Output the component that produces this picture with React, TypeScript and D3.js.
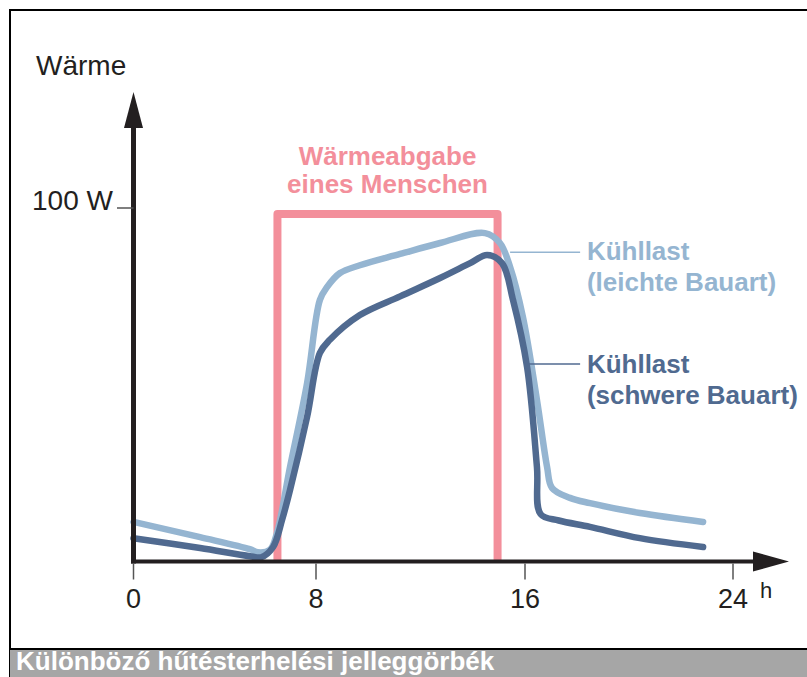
import React from "react";
import * as d3 from "d3";

const hourTicks = [0, 8, 16, 24];
const tickLabels = ["0", "8", "16", "24"];
const yTickValue = 100;
const yTickLabel = "100 W";

// Kühllast leichte Bauart (h, W)
const lightHours = [0, 2.92, 5.1, 5.45, 5.98, 6.29, 6.86, 7.61, 8.15, 8.42, 8.92, 9.68, 11.22, 12.75, 14.47, 15.04, 15.43, 15.92, 16.46, 16.85, 17.04, 17.73, 18.5, 20.42, 22.85];
const lightWatts = [11.2, 6.9, 3.5, 2.6, 3.3, 8.1, 26.7, 50.5, 74.0, 77.6, 81.6, 83.8, 87.0, 90.1, 92.9, 90.1, 83.3, 69.2, 45.7, 26.7, 20.8, 18.0, 16.5, 13.7, 11.2];

// Kühllast schwere Bauart (h, W)
const heavyHours = [0, 2.92, 5.1, 5.6, 6.12, 6.51, 6.86, 7.61, 8.15, 8.53, 9.68, 11.22, 12.75, 13.9, 14.55, 15.12, 15.54, 16.08, 16.46, 16.6, 17.3, 18.5, 20.42, 22.85];
const heavyWatts = [6.6, 3.8, 1.5, 1.2, 4.1, 11.7, 20.2, 40.9, 59.0, 62.7, 69.7, 75.0, 80.2, 84.4, 86.7, 84.4, 74.0, 55.0, 26.7, 13.4, 11.6, 9.8, 6.6, 4.1];

// Wärmeabgabe eines Menschen
const personStart = 6.31;
const personEnd = 14.95;
const personWatts = 98.3;

const W = 807;
const H = 677;

const x = d3.scaleLinear().domain(hourTicks).range([133.5, 316, 525, 733]);
const y = d3.scaleLinear().domain([0, 100]).range([561.5, 208]);

const line = d3
  .line<[number, number]>()
  .x((d) => x(d[0]))
  .y((d) => y(d[1]))
  .curve(d3.curveCatmullRom.alpha(0.5));

const lightPts = lightHours.map((h, i) => [h, lightWatts[i]] as [number, number]);
const heavyPts = heavyHours.map((h, i) => [h, heavyWatts[i]] as [number, number]);

const PINK = "#f38f9b";
const LIGHT = "#95b5d1";
const DARK = "#506a90";
const INK = "#231f20";
const FONT = "'Liberation Sans', Arial, Helvetica, sans-serif";

export default function App() {
  const x0 = x(0);
  const y0 = y(0);
  return (
    <div style={{ position: "absolute", left: 0, top: 0 }}>
      <svg width={W} height={H} style={{ display: "block" }} fontFamily={FONT}>
        <rect x={0} y={0} width={W} height={H} fill="#fff" />
        {/* frame */}
        <rect x={10} y={10} width={W} height={H} fill="none" stroke="#000" strokeWidth={2} />
        <rect x={10} y={649} width={W} height={H - 649} fill="#a6a6a6" />
        <line x1={10} x2={W} y1={649} y2={649} stroke="#000" strokeWidth={2} />
        <text x={16} y={670} fill="#fff" fontWeight="bold" fontSize={26} fontFamily="'Liberation Sans Narrow', 'Arial Narrow', 'Liberation Sans', Arial, sans-serif">
          Különböző hűtésterhelési jelleggörbék
        </text>

        {/* person heat rectangle */}
        <path
          d={`M${x(personStart)},${y0} L${x(personStart)},${y(personWatts)} L${x(personEnd)},${y(personWatts)} L${x(personEnd)},${y0}`}
          fill="none"
          stroke={PINK}
          strokeWidth={8}
          strokeLinejoin="round"
        />
        <text x={(x(personStart) + x(personEnd)) / 2} y={165} textAnchor="middle" fill={PINK} fontWeight="bold" fontSize={26}>
          Wärmeabgabe
        </text>
        <text x={(x(personStart) + x(personEnd)) / 2} y={193} textAnchor="middle" fill={PINK} fontWeight="bold" fontSize={26}>
          eines Menschen
        </text>

        {/* curves */}
        <path d={line(lightPts) || ""} fill="none" stroke={LIGHT} strokeWidth={6.5} strokeLinejoin="round" strokeLinecap="round" />
        <path d={line(heavyPts) || ""} fill="none" stroke={DARK} strokeWidth={6.5} strokeLinejoin="round" strokeLinecap="round" />

        {/* leaders */}
        <line x1={x(15.43)} x2={x(18.12)} y1={y(87.5)} y2={y(87.5)} stroke={LIGHT} strokeWidth={1.5} />
        <line x1={x(16.12)} x2={x(18.12)} y1={y(55.9)} y2={y(55.9)} stroke={DARK} strokeWidth={1.5} />
        <text x={x(18.38)} y={260} fill={LIGHT} fontWeight="bold" fontSize={26}>Kühllast</text>
        <text x={x(18.38)} y={291} fill={LIGHT} fontWeight="bold" fontSize={26}>(leichte Bauart)</text>
        <text x={x(18.38)} y={373} fill={DARK} fontWeight="bold" fontSize={26}>Kühllast</text>
        <text x={x(18.38)} y={404} fill={DARK} fontWeight="bold" fontSize={26}>(schwere Bauart)</text>

        {/* axes */}
        <line x1={x0} x2={x0} y1={y0 + 2} y2={125} stroke={INK} strokeWidth={5} />
        <path d={`M${x0},92 L${x0 + 9.5},128 L${x0 - 9.5},128 Z`} fill={INK} />
        <line x1={x0 - 2.5} x2={757} y1={y0} y2={y0} stroke={INK} strokeWidth={4} />
        <path d={`M789,${y0} L753,${y0 - 10} L753,${y0 + 10} Z`} fill={INK} />

        {hourTicks.map((h, i) => (
          <g key={h}>
            <line x1={x(h)} x2={x(h)} y1={y0 + 2} y2={y0 + 18} stroke="#555" strokeWidth={1.5} />
            <text x={x(h)} y={608} textAnchor="middle" fill={INK} fontSize={27}>
              {tickLabels[i]}
            </text>
          </g>
        ))}
        <text x={760} y={598} fill={INK} fontSize={22}>h</text>

        <line x1={117} x2={x0} y1={y(yTickValue)} y2={y(yTickValue)} stroke="#555" strokeWidth={1.5} />
        <text x={32} y={210} fill={INK} fontSize={28}>{yTickLabel}</text>
        <text x={36} y={75} fill={INK} fontSize={28}>Wärme</text>
      </svg>
    </div>
  );
}
